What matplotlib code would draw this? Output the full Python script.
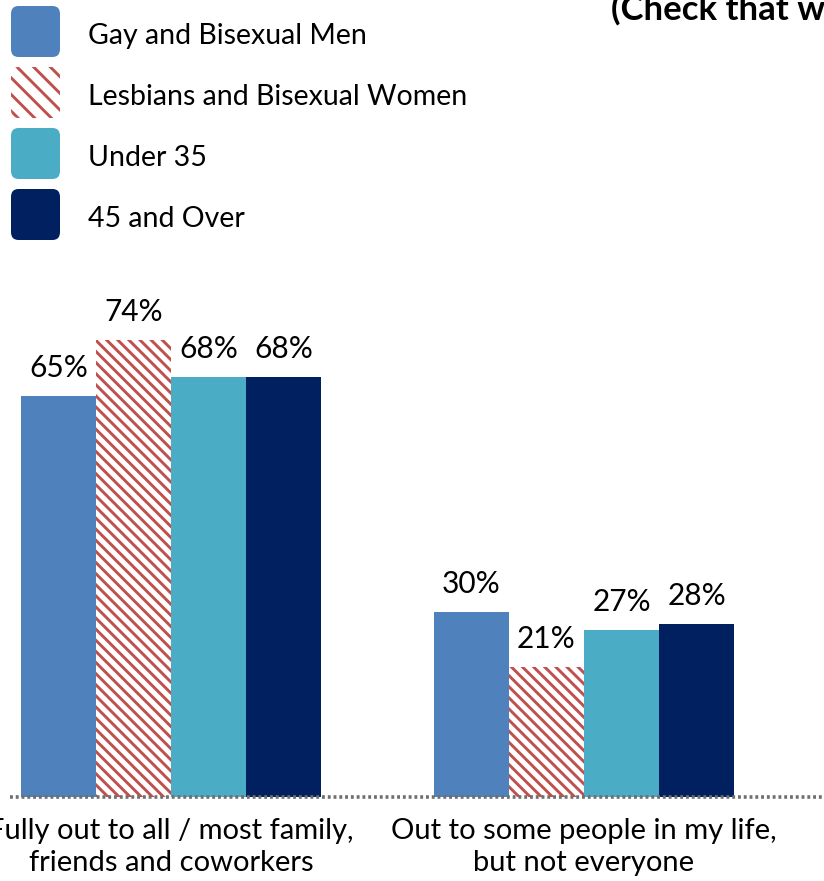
import matplotlib.pyplot as plt
from matplotlib.patches import FancyBboxPatch

# -----------------------------
# Données
# -----------------------------
categories = ["Fully out to all / most family,\nfriends and coworkers",
              "Out to some people in my life,\nbut not everyone"]
series = ["Gay and Bisexual Men", "Lesbians and Bisexual Women",
          "Under 35", "45 and Over"]
gay_bi_men = [65, 30]
lesbian_bi_women = [74, 21]
under_35 = [68, 27]
over_45 = [68, 28]
values = [gay_bi_men, lesbian_bi_women, under_35, over_45]

colors = ["#4F81BD", "white", "#4BACC6", "#002060"]
hatches = [None, "\\\\\\", None, None]
legend_hatches = [None, "\\\\", None, None]
red = "#C0504D"

plt.rcParams["font.family"] = ["Lato", "DejaVu Sans"]
plt.rcParams["hatch.linewidth"] = 2.1

W, H = 824, 881
fig = plt.figure(figsize=(W / 100, H / 100), dpi=100)

# axes : ligne de base à y=797 px, ~6.17 px par %
ax = fig.add_axes([10 / W, 84 / H, 814 / W, 494 / H])
width = 0.182
x0 = [0, 1]
for i, (vals, c, h) in enumerate(zip(values, colors, hatches)):
    xs = [x + (i - 1.5) * width for x in x0]
    if h:
        bars = ax.bar(xs, vals, width, color=c, edgecolor=red, hatch=h, linewidth=0)
    else:
        bars = ax.bar(xs, vals, width, color=c, linewidth=0)
    for b, v in zip(bars, vals):
        ax.annotate(f"{v}%", (b.get_x() + b.get_width() / 2, v),
                    xytext=(0, 10), textcoords="offset points",
                    ha="center", va="bottom", fontsize=21.5)

ax.set_xlim(-0.39, 1.581)
ax.set_ylim(0, 80)
for s in ["top", "right", "left"]:
    ax.spines[s].set_visible(False)
ax.spines["bottom"].set_color("#6F6F6F")
ax.spines["bottom"].set_linewidth(2.6)
ax.spines["bottom"].set_linestyle((0, (0.8, 0.8)))
ax.spines["bottom"].set_capstyle("butt")
ax.set_yticks([])
ax.set_xticks(x0)
ax.set_xticklabels(categories, fontsize=21, linespacing=1.28)
ax.tick_params(axis="x", length=0, pad=15)

# -----------------------------
# Légende (carrés arrondis)
# -----------------------------
for i, (name, c, h) in enumerate(zip(series, colors, legend_hatches)):
    top = 5 + i * 61
    box = FancyBboxPatch((11 / W, 1 - (top + 52) / H), 49 / W, 51 / H,
                         boxstyle="round,pad=0,rounding_size=0.009",
                         transform=fig.transFigure, facecolor=c,
                         edgecolor=red if h else c, hatch=h, linewidth=0)
    fig.add_artist(box)
    fig.text(88 / W, 1 - (top + 31) / H, name, fontsize=20.5, va="center", ha="left")

fig.text(611 / W, 1 - 9 / H, "(Check that which applies)", fontsize=25,
         fontweight="bold", va="center", ha="left")

fig.savefig("out.png", dpi=100)
